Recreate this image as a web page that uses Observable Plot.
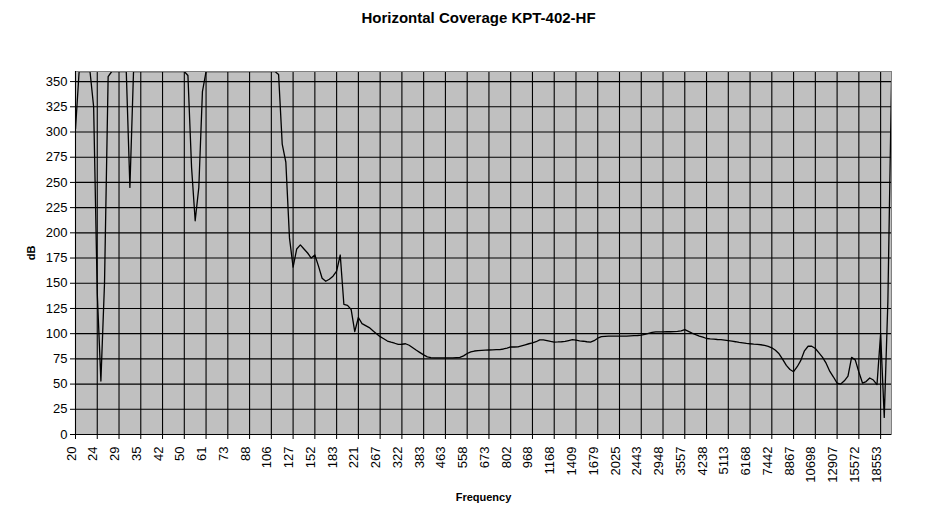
<!DOCTYPE html>
<html>
<head>
<meta charset="utf-8">
<script src="https://cdn.jsdelivr.net/npm/d3@7"></script>
<script src="https://cdn.jsdelivr.net/npm/@observablehq/plot@0.6"></script>
<style>
  body { margin: 0; background: #fff; }
</style>
</head>
<body>
<div id="chart"></div>
<script>
// Tick labels (frequency categories, one label every 6 data points)
const tickLabels = ["20","24","29","35","42","50","61","73","88","106","127","152","183","221","267","322","383","463","558","673","802","968","1168","1409","1679","2025","2443","2948","3557","4238","5113","6168","7442","8867","10698","12907","15572","18553"];
const pointsPerLabel = 6;

// dB values (values at 360 are clipped at the top of the chart)
const dB = [
  303,360,360,360,360,325,
  140,53,150,355,360,360,
  360,360,360,245,360,360,
  360,360,360,360,360,360,
  360,360,360,360,360,360,
  360,356,265,212,245,340,
  360,360,360,360,360,360,
  360,360,360,360,360,360,
  360,360,360,360,360,360,
  360,360,357,288,270,195,
  166,184,188,184,180,175,
  178,167,155,152,154,157,
  162,178,129,128,124,102,
  116,110,108,106,103,100,
  97,95,92.7,91.5,90.5,89.3,
  89.5,90,88.5,86,83.5,81.2,
  79,77,76.3,76,76,76,
  76,76,76,76.2,76.4,78,
  80.3,82,82.8,83.1,83.4,83.6,
  83.8,84,84.1,84.2,84.8,85.7,
  86.8,86.8,87,88,89,90,
  90.8,92,93.8,93.8,93.2,92.3,
  91.7,91.8,92,92.3,93.2,94,
  93.5,92.8,92.5,92,91.7,93,
  95.5,97,97.4,97.5,97.6,97.6,
  97.6,97.6,97.6,97.8,98,98.2,
  98.5,99.3,100.3,101.2,101.7,101.8,
  101.8,101.9,101.9,102,102.2,102.8,
  104,102.3,100.6,99,97.6,96.5,
  95.2,94.8,94.5,94.2,94,93.5,
  93,92.5,92,91.3,90.8,90.3,
  90,89.6,89.3,89,88.3,87.3,
  86,83.5,80,74.5,68.5,64.5,
  62.3,67.2,73.5,83,87.5,87.5,
  85.3,81,76.5,70.5,62.5,57,
  51,50,53.2,58,76.5,74,
  62,51,52.5,56,54,49.5,
  100,17,132,350
];

const yTicks = [0,25,50,75,100,125,150,175,200,225,250,275,300,325,350];

const points = dB.map((v, i) => ({i, v}));
const ticks = tickLabels.map((t, j) => ({i: j * pointsPerLabel, t}));
const tickIdx = ticks.map(d => d.i);

const chart = Plot.plot({
  width: 944,
  height: 530,
  marginLeft: 75,
  marginRight: 53,
  marginTop: 71,
  marginBottom: 96,
  x: {domain: [0, dB.length - 1]},
  y: {domain: [0, 360]},
  style: {
    fontFamily: '"Liberation Sans", Arial, sans-serif',
    fontSize: "13px",
    color: "black",
    background: "white",
    overflow: "visible"
  },
  marks: [
    Plot.frame({fill: "#c0c0c0", stroke: "none"}),
    Plot.ruleY(yTicks, {stroke: "black", strokeWidth: 1.1}),
    Plot.ruleX(tickIdx, {stroke: "black", strokeWidth: 1.1}),
    Plot.line(points, {x: "i", y: "v", stroke: "black", strokeWidth: 1.3, clip: true}),
    Plot.frame({stroke: "#808080", strokeWidth: 1}),
    Plot.ruleX([0], {stroke: "black"}),
    Plot.ruleY([0], {stroke: "black"}),
    Plot.axisY(yTicks, {tickSize: 5, tickPadding: 3, label: null, fontSize: 13}),
    Plot.axisX(tickIdx, {tickSize: 5, tickFormat: () => "", label: null}),
    Plot.text(ticks, {x: "i", text: "t", frameAnchor: "bottom", rotate: -90, textAnchor: "end", dy: 12, fontSize: 13}),
    Plot.text(["Horizontal Coverage KPT-402-HF"], {frameAnchor: "top", lineAnchor: "middle", dy: -53, dx: -5, fontWeight: "bold", fontSize: 15}),
    Plot.text(["dB"], {frameAnchor: "left", textAnchor: "middle", lineAnchor: "middle", dx: -44, rotate: -90, fontWeight: "bold", fontSize: 11}),
    Plot.text(["Frequency"], {frameAnchor: "bottom", lineAnchor: "middle", dy: 63, fontWeight: "bold", fontSize: 11})
  ]
});
document.getElementById("chart").appendChild(chart);
</script>
</body>
</html>
